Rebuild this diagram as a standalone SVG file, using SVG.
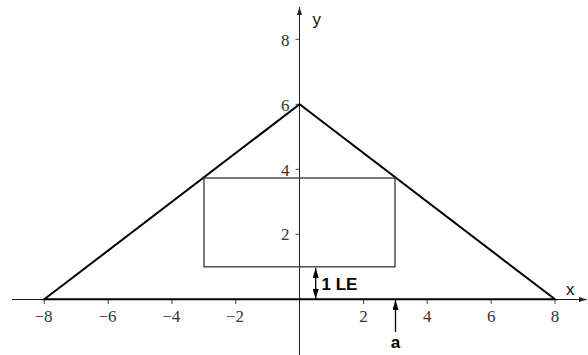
<svg xmlns="http://www.w3.org/2000/svg" width="588" height="355" viewBox="0 0 588 355">
<style>
.axis{stroke:#222;stroke-width:1;fill:none}
.tick{stroke:#444;stroke-width:1}
.num{font-size:17px;fill:#333}
.lab{font-family:"Liberation Sans",Arial,sans-serif;font-size:17px;fill:#111}
.bold{font-family:"Liberation Sans",Arial,sans-serif;font-size:17px;font-weight:bold;fill:#000}
.tri{stroke:#000;stroke-width:2;fill:none;stroke-linejoin:miter}
.rect{stroke:#333;stroke-width:1.3;fill:none}
.arr{stroke:#000;stroke-width:1.3;fill:none}
</style>
<defs>
<marker id="ah" viewBox="0 0 10 6" refX="10" refY="3" markerWidth="10" markerHeight="6" markerUnits="userSpaceOnUse" orient="auto-start-reverse">
<path d="M0,0 L10,3 L0,6 Z" fill="#000"/>
</marker>
<marker id="axh" viewBox="0 0 8 5" refX="8" refY="2.5" markerWidth="8" markerHeight="5" markerUnits="userSpaceOnUse" orient="auto">
<path d="M0,0 L8,2.5 L0,5 Z" fill="#222"/>
</marker>
</defs>
<rect width="588" height="355" fill="#fff"/>
<g id="axes">
<line class="axis" x1="12" y1="299.5" x2="587" y2="299.5" marker-end="url(#axh)"/>
<line class="axis" x1="299.5" y1="355" x2="299.5" y2="7" marker-end="url(#axh)"/>
<g id="xticks">
<line class="tick" x1="44.3" y1="299" x2="44.3" y2="304"/>
<line class="tick" x1="108.2" y1="299" x2="108.2" y2="304"/>
<line class="tick" x1="171.9" y1="299" x2="171.9" y2="304"/>
<line class="tick" x1="235.7" y1="299" x2="235.7" y2="304"/>
<line class="tick" x1="363.5" y1="299" x2="363.5" y2="304"/>
<line class="tick" x1="427.3" y1="299" x2="427.3" y2="304"/>
<line class="tick" x1="491.2" y1="299" x2="491.2" y2="304"/>
<line class="tick" x1="555" y1="299" x2="555" y2="304"/>
</g>
<g id="yticks">
<line class="tick" x1="295.5" y1="234.3" x2="299.5" y2="234.3"/>
<line class="tick" x1="295.5" y1="169.3" x2="299.5" y2="169.3"/>
<line class="tick" x1="295.5" y1="104.3" x2="299.5" y2="104.3"/>
<line class="tick" x1="295.5" y1="39.3" x2="299.5" y2="39.3"/>
</g>
<g id="xlabels" text-anchor="middle" style="font-family:'Liberation Serif','DejaVu Serif',serif">
<text class="num" x="43.5" y="322">−8</text>
<text class="num" x="107.5" y="322">−6</text>
<text class="num" x="171.2" y="322">−4</text>
<text class="num" x="235" y="322">−2</text>
<text class="num" x="363.5" y="322">2</text>
<text class="num" x="427.3" y="322">4</text>
<text class="num" x="491.2" y="322">6</text>
<text class="num" x="555" y="322">8</text>
</g>
<g id="ylabels" text-anchor="end" style="font-family:'Liberation Serif','DejaVu Serif',serif">
<text class="num" x="289.5" y="240">2</text>
<text class="num" x="289.5" y="175.5">4</text>
<text class="num" x="289.5" y="110.8">6</text>
<text class="num" x="289.5" y="46.3">8</text>
</g>
<text class="lab" x="312.5" y="25">y</text>
<text class="lab" x="566" y="294.5">x</text>
</g>
<g id="triangle">
<polygon class="tri" points="44.3,299.3 299.6,104.3 555,299.3"/>
</g>
<g id="rectangle">
<rect class="rect" x="204" y="178" width="191" height="88.8"/>
</g>
<g id="connectors">
<line class="arr" x1="315.7" y1="268" x2="315.7" y2="299" marker-start="url(#ah)" marker-end="url(#ah)"/>
<line class="arr" x1="395.5" y1="332" x2="395.5" y2="300" marker-end="url(#ah)"/>
</g>
<g id="labels">
<text class="bold" x="321.5" y="290">1 LE</text>
<text class="bold" x="395.5" y="348" text-anchor="middle">a</text>
</g>
</svg>
